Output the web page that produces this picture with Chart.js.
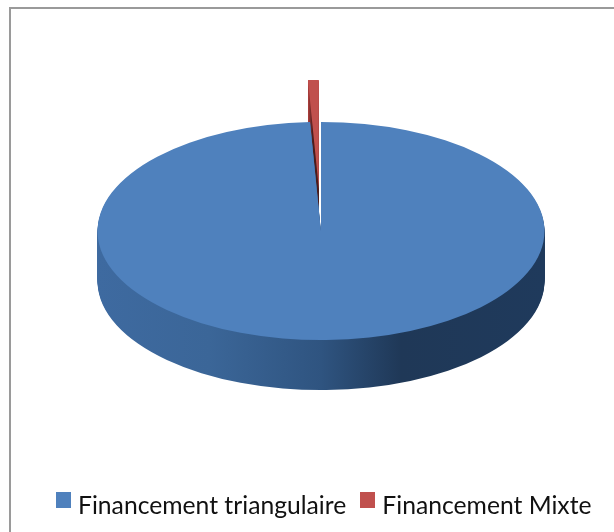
<!DOCTYPE html>
<html>
<head>
<meta charset="utf-8">
<style>
  html, body { margin: 0; padding: 0; background: #fff; overflow: hidden; }
  #frame { position: absolute; left: 9px; top: 7px; width: 605px; height: 525px; border-top: 2px solid #9a9a9a; border-left: 2px solid #9a9a9a; box-sizing: border-box; }
  canvas { position: absolute; left: 0; top: 0; }
  #legend { position: absolute; left: 56px; top: 486px; height: 36px; display: flex; align-items: center; font: 24.7px Lato, sans-serif; color: #111; white-space: nowrap; }
  #legend i { width: 15px; height: 16px; margin: -8px 7px 0 0; display: block; }
  #legend span { margin-right: 14px; }
</style>
</head>
<body>
<div id="frame"></div>
<canvas id="chart" width="614" height="532"></canvas>
<div id="legend"></div>
<script src="https://cdn.jsdelivr.net/npm/chart.js@4/dist/chart.umd.min.js"></script>
<script>
const categories = ['Financement triangulaire', 'Financement Mixte'];
const values = [99.22, 0.78];
const sliceColors = ['#4f81bd', '#c0504d'];

const tilt = 0.488;
const depth = 50;
const explode = 86;
const pieCentre = { x: 321, y: 231 };

// puts the flat pie on its side, d = pixels pushed down for the wall copies
function project(ctx, pivot, d) {
    ctx.translate(pieCentre.x, pieCentre.y + d);
    ctx.scale(1, tilt);
    ctx.translate(-pivot.x, -pivot.y);
}

function drawWall(ctx, arc, pivot, fill) {
    const copy = Object.create(arc);
    copy.options = Object.assign({}, arc.options, { backgroundColor: fill });
    for (let d = depth; d > 0; d--) {
        ctx.save();
        project(ctx, pivot, d);
        copy.draw(ctx);
        ctx.restore();
    }
}

const tiltedPie = {
    id: 'tiltedPie',
    afterDatasetsUpdate(chart) {
        // the arc offset option squeezes thin slices away, so move the slice here
        const red = chart.getDatasetMeta(0).data[1];
        const mid = (red.startAngle + red.endAngle) / 2;
        red.x += Math.cos(mid) * explode;
        red.y += Math.sin(mid) * explode;
    },
    beforeDatasetsDraw(chart) {
        const ctx = chart.ctx;
        const arcs = chart.getDatasetMeta(0).data;
        const pivot = arcs[0];
        const r = pivot.outerRadius;
        const side = ctx.createLinearGradient(pivot.x - r, 0, pivot.x + r, 0);
        side.addColorStop(0, '#3e6aa0');
        side.addColorStop(0.25, '#3b6698');
        side.addColorStop(0.5, '#2f5480');
        side.addColorStop(0.68, '#1f3857');
        side.addColorStop(1, '#1f3a5c');
        const redSide = ctx.createLinearGradient(0, arcs[1].y - r, 0, arcs[1].y);
        redSide.addColorStop(0, '#b5403d');
        redSide.addColorStop(0.45, '#4a1c1c');
        redSide.addColorStop(1, '#4a1c1c');
        drawWall(ctx, arcs[1], pivot, redSide);
        drawWall(ctx, arcs[0], pivot, side);
        ctx.save();
        project(ctx, pivot, 0);
    },
    afterDatasetsDraw(chart) {
        chart.ctx.restore();
    }
};

new Chart(document.getElementById('chart'), {
    type: 'pie',
    data: {
        labels: categories,
        datasets: [{
            data: values,
            backgroundColor: sliceColors,
            borderWidth: 0,
            radius: 223.5,
            clip: false
        }]
    },
    options: {
        responsive: false,
        animation: false,
        plugins: {
            tooltip: { enabled: false },
            legend: { display: false }
        }
    },
    plugins: [tiltedPie]
});

document.getElementById('legend').innerHTML = categories.map((name, i) =>
    `<i style="background:${sliceColors[i]}"></i><span>${name}</span>`
).join('');
</script>
</body>
</html>
